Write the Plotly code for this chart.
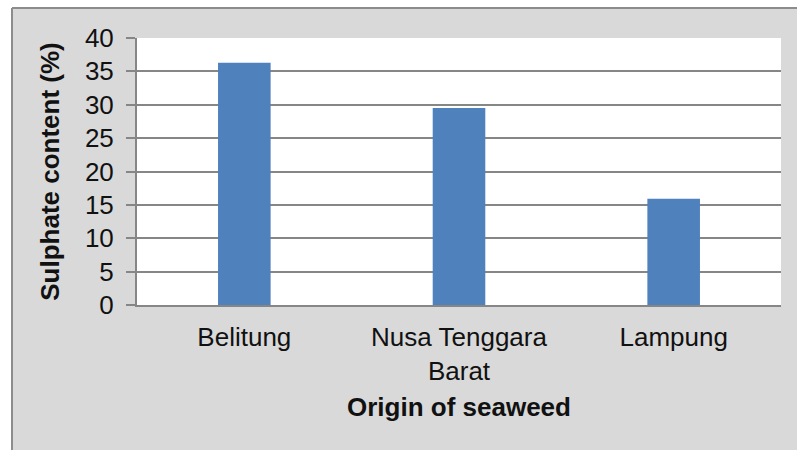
import plotly.graph_objects as go

categories = ["Belitung", "Nusa Tenggara<br>Barat", "Lampung"]
sulphate = [36.3, 29.5, 15.9]
y_ticks = [0, 5, 10, 15, 20, 25, 30, 35, 40]

W, H = 797, 450
L, R, T, B = 137, 16, 38, 145

FONT = "Liberation Sans, Arial, sans-serif"

fig = go.Figure(
    go.Bar(
        x=categories,
        y=sulphate,
        marker=dict(color="#4F81BD", line=dict(width=0)),
        width=0.245,
    )
)

pw = W - L - R
ph = H - T - B
def px_x(p):
    return (p - L) / pw
def px_y(p):
    return (H - B - p) / ph

fig.update_layout(
    width=W,
    height=H,
    margin=dict(l=L, r=R, t=T, b=B, pad=0),
    paper_bgcolor="#D9D9D9",
    plot_bgcolor="#FFFFFF",
    showlegend=False,
    font=dict(family=FONT, size=26, color="#000000"),
    shapes=[
        # white outside strips
        dict(type="rect", xref="paper", yref="paper", layer="below",
             x0=px_x(-5), x1=px_x(12), y0=px_y(460), y1=px_y(-5),
             fillcolor="#FFFFFF", line=dict(width=0)),
        dict(type="rect", xref="paper", yref="paper", layer="below",
             x0=px_x(-5), x1=px_x(805), y0=px_y(8), y1=px_y(-5),
             fillcolor="#FFFFFF", line=dict(width=0)),
        # border lines
        dict(type="line", xref="paper", yref="paper", layer="below",
             x0=px_x(12), x1=px_x(12), y0=px_y(460), y1=px_y(8),
             line=dict(color="#8C8C8C", width=2)),
        dict(type="line", xref="paper", yref="paper", layer="below",
             x0=px_x(12), x1=px_x(805), y0=px_y(8), y1=px_y(8),
             line=dict(color="#8C8C8C", width=2)),
    ],
    xaxis=dict(
        showgrid=False,
        showline=True,
        linecolor="#868686",
        linewidth=2,
        ticks="",
        ticklabelstandoff=8,
        tickfont=dict(family=FONT, size=26, color="#111111"),
        title=dict(text="<b>Origin of seaweed</b>",
                   font=dict(family=FONT, size=26, color="#111111"),
                   standoff=13),
        fixedrange=True,
    ),
    yaxis=dict(
        range=[0, 40],
        tickvals=y_ticks,
        showgrid=True,
        gridcolor="#868686",
        gridwidth=2,
        showline=True,
        linecolor="#868686",
        linewidth=2,
        ticks="outside",
        ticklen=9,
        tickwidth=2,
        tickcolor="#868686",
        ticklabelstandoff=7,
        tickfont=dict(family=FONT, size=26, color="#111111"),
        title=dict(text="<b>Sulphate content (%)</b>",
                   font=dict(family=FONT, size=26, color="#111111"),
                   standoff=18),
        zeroline=False,
        fixedrange=True,
    ),
)

fig.write_html("out.html", config=dict(displayModeBar=False))
